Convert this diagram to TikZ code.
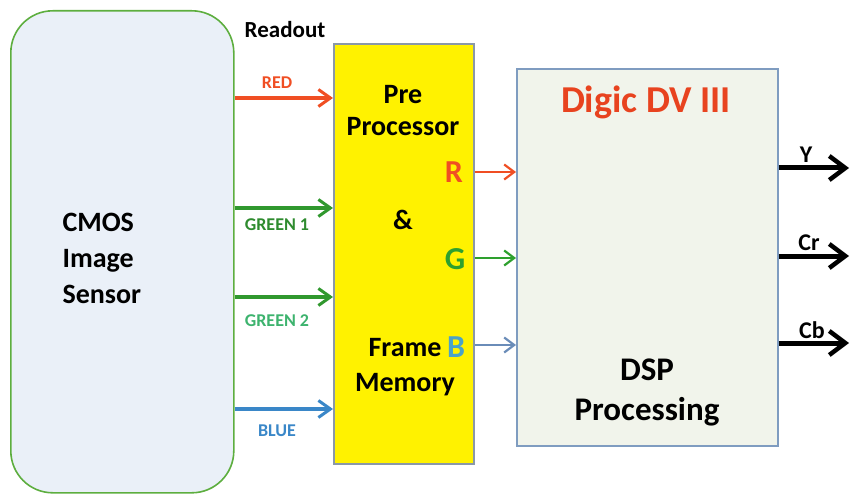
\documentclass[tikz,border=0pt]{standalone}
\usepackage{fontspec}
\setmainfont{Carlito}
\usetikzlibrary{arrows.meta}
\definecolor{cmosfill}{HTML}{EAF0F8}
\definecolor{cmosline}{HTML}{5DAE3F}
\definecolor{preline}{HTML}{8A98A8}
\definecolor{digfill}{HTML}{F1F4EB}
\definecolor{digline}{HTML}{7F9CC0}
\definecolor{cred}{HTML}{F04E23}
\definecolor{cgreenA}{HTML}{2E8B2E}
\definecolor{cgreenB}{HTML}{3DB36E}
\definecolor{cgarr}{HTML}{30982E}
\definecolor{cblue}{HTML}{3A87C8}
\definecolor{cG}{HTML}{2EA02E}
\definecolor{cB}{HTML}{4BA3C8}
\definecolor{cBarr}{HTML}{6A8CB8}
\definecolor{digred}{HTML}{E8431F}
\begin{document}
\begin{tikzpicture}[x=1pt,y=-1pt,
  every node/.style={font=\bfseries},
  box/.style={draw, line width=1.6pt, inner sep=0pt, anchor=north west},
  inarrow/.style={line width=3.2pt, -{Straight Barb[length=12pt,width=17pt,line width=3pt]}},
  midarrow/.style={line width=2.2pt, -{Straight Barb[length=10pt,width=15pt,line width=2.2pt]}},
  outarrow/.style={line width=5pt, -{Straight Barb[length=16pt,width=24pt,line width=4.5pt]}},
  sig/.style={font=\bfseries\fontsize{18}{20}\selectfont},
  big/.style={align=center},
  rgb/.style={font=\bfseries\fontsize{32}{34}\selectfont},
  outl/.style={font=\bfseries\fontsize{24}{26}\selectfont}
]
\useasboundingbox (0,0) rectangle (850,494);
% boxes
\node (cmos) [box, draw=cmosline, fill=cmosfill, rounded corners=42pt, minimum width=223pt, minimum height=482pt] at (10,10) {};
\node (pre) [box, draw=preline, fill=yellow, minimum width=140pt, minimum height=420pt] at (333,43) {};
\node (dig) [box, draw=digline, fill=digfill, minimum width=261pt, minimum height=377pt] at (516,68) {};
% texts in boxes
\node (cmost) [font=\bfseries\fontsize{28}{36}\selectfont, align=left, anchor=west] at (59,258) {CMOS\\Image\\Sensor};
\node (pret) [big, font=\bfseries\fontsize{28}{32}\selectfont] at (403,111) {Pre\\Processor};
\node (amp) [big, font=\bfseries\fontsize{28}{32}\selectfont] at (403,220) {\&};
\node (fmt) [big, font=\bfseries\fontsize{28}{35}\selectfont] at (405,367) {Frame\\Memory};
\node (Rl) [rgb, text=cred] at (454,172) {R};
\node (Gl) [rgb, text=cG] at (455,259) {G};
\node (Bl) [rgb, text=cB] at (456,347) {B};
\node (digt) [font=\bfseries\fontsize{38}{40}\selectfont, text=digred] at (646,102) {Digic DV III};
\node (dspt) [big, font=\bfseries\fontsize{33}{40}\selectfont] at (647,392) {DSP\\Processing};
% readout labels
\node (readout) [font=\bfseries\fontsize{23}{25}\selectfont] at (285,30) {Readout};
\node (redl) [sig, text=cred] at (277,83) {RED};
\node (g1l) [sig, text=cgreenA] at (277,225) {GREEN 1};
\node (g2l) [sig, text=cgreenB] at (277,321) {GREEN 2};
\node (bl) [sig, text=cblue] at (277,431) {BLUE};
% input arrows
\draw[inarrow, cred] (cmos.east |- 0,98) -- (pre.west |- 0,98);
\draw[inarrow, cgarr] (cmos.east |- 0,208) -- (pre.west |- 0,208);
\draw[inarrow, cgarr] (cmos.east |- 0,297) -- (pre.west |- 0,297);
\draw[inarrow, cblue] (cmos.east |- 0,409) -- (pre.west |- 0,409);
% middle arrows
\draw[midarrow, cred] (pre.east |- 0,172) -- (dig.west |- 0,172);
\draw[midarrow, cG] (pre.east |- 0,258) -- (dig.west |- 0,258);
\draw[midarrow, cBarr] (pre.east |- 0,345) -- (dig.west |- 0,345);
% outputs
\coordinate (yo) at (849,168);
\coordinate (cro) at (849,256);
\coordinate (cbo) at (849,343);
\draw[outarrow] (dig.east |- yo) -- (yo);
\draw[outarrow] (dig.east |- cro) -- (cro);
\draw[outarrow] (dig.east |- cbo) -- (cbo);
\node (yl) [outl] at (806,155) {Y};
\node (crl) [outl] at (809,243) {Cr};
\node (cbl) [outl] at (812,330) {Cb};
\end{tikzpicture}
\end{document}
